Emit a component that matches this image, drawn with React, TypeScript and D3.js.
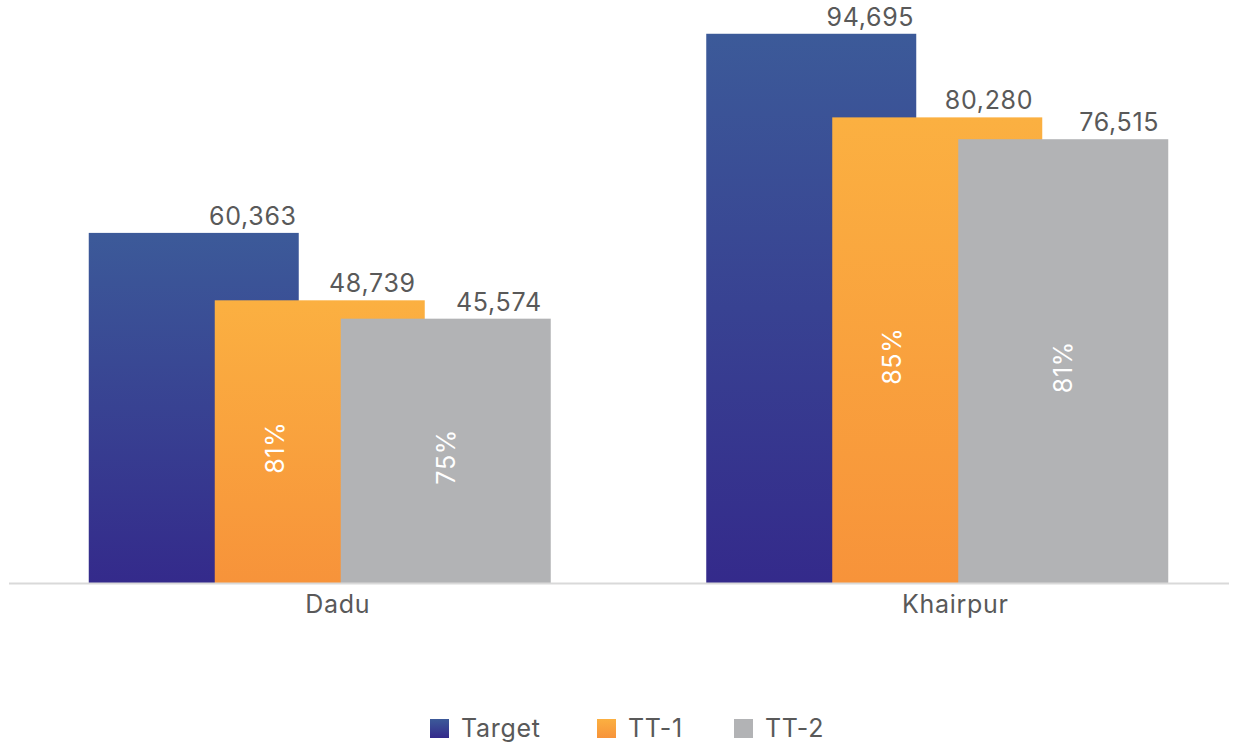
import React from "react";
import { scaleBand, scaleLinear, format } from "d3";

// data
const categories = ["Dadu", "Khairpur"];
const seriesNames = ["Target", "TT-1", "TT-2"];
const targetValues = [60363, 94695];
const tt1Values = [48739, 80280];
const tt2Values = [45574, 76515];
const tt1Pct = ["81%", "85%"];
const tt2Pct = ["75%", "81%"];

const W = 1239;
const H = 745;
const FONT = "Inter, 'Open Sans', sans-serif";
const TEXT = "#595959";
const LS = 0.7;

const seriesColors = [
  { id: "gTarget", top: "#3C5A99", bottom: "#342A8B" },
  { id: "gTT1", top: "#FBB041", bottom: "#F7933A" },
  { id: "gTT2", top: "#B2B3B5", bottom: "#B2B3B5" },
];

function App() {
  const xScale = scaleBand<string>().domain(categories).range([11, 1246]);
  const yScale = scaleLinear().domain([0, 100000]).range([583, 3]);
  const barW = 210;
  const step = barW * 0.6; // 40% overlap
  const groupW = barW + step * 2;
  const fmt = format(",");

  const series = [targetValues, tt1Values, tt2Values];
  const pcts = [null, tt1Pct, tt2Pct];

  const bars: any[] = [];
  categories.forEach((c, ci) => {
    const x0 = (xScale(c) as number) + xScale.bandwidth() / 2 - groupW / 2;
    series.forEach((vals, si) => {
      bars.push({
        c,
        ci,
        si,
        v: vals[ci],
        x: x0 + si * step,
        y: yScale(vals[ci]),
        h: yScale(0) - yScale(vals[ci]),
        pct: pcts[si] ? (pcts[si] as string[])[ci] : null,
      });
    });
  });

  const legendX = [430, 597, 734];

  return (
    <svg width={W} height={H} style={{ position: "absolute", left: 0, top: 0 }}>
      <defs>
        {seriesColors.map((s) => (
          <linearGradient key={s.id} id={s.id} x1="0" y1="0" x2="0" y2="1">
            <stop offset="0" stopColor={s.top} />
            <stop offset="1" stopColor={s.bottom} />
          </linearGradient>
        ))}
      </defs>
      <rect width={W} height={H} fill="#fff" />
      {bars.map((b, i) => (
        <rect
          key={"b" + i}
          x={b.x}
          y={b.y}
          width={barW}
          height={b.h}
          fill={`url(#${seriesColors[b.si].id})`}
        />
      ))}
      <line x1={9} x2={1229} y1={583.5} y2={583.5} stroke="#D9D9D9" strokeWidth={2} />
      {bars.map((b, i) => (
        <text
          key={"v" + i}
          x={b.x + barW - (b.si === 0 ? 2 : 9)}
          y={b.y - 8}
          textAnchor="end"
          fontFamily={FONT}
          fontSize={25}
          letterSpacing={LS}
          fill={TEXT}
        >
          {fmt(b.v)}
        </text>
      ))}
      {bars
        .filter((b) => b.pct)
        .map((b, i) => {
          const cx = b.si === 1 ? b.x + 60 : b.x + barW / 2;
          const cy = b.y + b.h / 2 + 6;
          return (
            <text
              key={"p" + i}
              transform={`translate(${cx},${cy}) rotate(-90)`}
              textAnchor="middle"
              dy="0.36em"
              fontFamily={FONT}
              fontSize={25}
              letterSpacing={LS}
              fill="#fff"
            >
              {b.pct}
            </text>
          );
        })}
      {categories.map((c) => (
        <text
          key={c}
          x={(xScale(c) as number) + xScale.bandwidth() / 2 + 18}
          y={613}
          textAnchor="middle"
          fontFamily={FONT}
          fontSize={25}
          letterSpacing={LS}
          fill={TEXT}
        >
          {c}
        </text>
      ))}
      {seriesNames.map((n, i) => (
        <g key={n} transform={`translate(${legendX[i]},0)`}>
          <rect x={0} y={719} width={19} height={19} fill={`url(#${seriesColors[i].id})`} />
          <text x={31} y={737} fontFamily={FONT} fontSize={25} letterSpacing={LS} fill={TEXT}>
            {n}
          </text>
        </g>
      ))}
    </svg>
  );
}

export default App;
